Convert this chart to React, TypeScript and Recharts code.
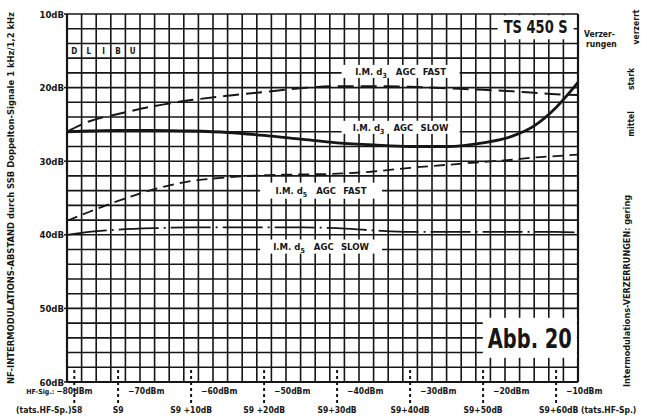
import React from "react";
import {
  CartesianGrid,
  Line,
  LineChart,
  ReferenceDot,
  XAxis,
  YAxis,
} from "recharts";

// HF signal level at the receiver input (dBm)
const signalDbm = [-77, -74, -70, -65, -60, -55, -50, -45, -40, -35, -30, -25, -20, -16, -13, -10, -7];

// NF intermodulation distance (dB)
const d3Fast = [26.0, 24.6, 23.6, 22.5, 21.7, 21.1, 20.6, 20.1, 19.8, 19.8, 19.9, 20.1, 20.3, 20.5, 20.7, 20.9, 21.0];
const d3Slow = [26.0, 25.9, 25.8, 25.8, 25.9, 26.1, 26.5, 27.0, 27.5, 27.8, 28.0, 28.0, 27.5, 26.6, 25.2, 22.7, 19.3];
const d5Fast = [38.1, 36.9, 35.4, 33.8, 32.7, 32.2, 31.9, 31.8, 31.7, 31.4, 30.9, 30.5, 30.1, 29.8, 29.5, 29.3, 29.1];
const d5Slow = [40.0, 39.6, 39.3, 39.1, 39.0, 39.0, 39.0, 39.0, 39.1, 39.4, 39.6, 39.6, 39.6, 39.6, 39.6, 39.6, 39.7];

// axis labelling
const markerDbm = [-76, -70, -60, -50, -40, -30, -20, -10];
const dbmLabels = ["−80dBm", "−70dBm", "−60dBm", "−50dBm", "−40dBm", "−30dBm", "−20dBm", "−10dBm"];
const sLabels = ["S8", "S9", "S9 +10dB", "S9 +20dB", "S9+30dB", "S9+40dB", "S9+50dB", "S9+60dB"];
const rightTicks = [10, 20, 30, 40, 50, 60];
const rightLabels = ["32 %", "10 %", "3,2 %", "1 %", "0,32 %", "0,1 %"];
const modeLetters = ["D", "L", "I", "B", "U"];
const modeLetterX = [-76, -74, -72, -70, -68];

const gridX = Array.from({ length: 36 }, (_, i) => -77 + i * 2);
const gridY = Array.from({ length: 26 }, (_, i) => 10 + i * 2);

const data = signalDbm.map((x, i) => ({
  x,
  d3Fast: d3Fast[i],
  d3Slow: d3Slow[i],
  d5Fast: d5Fast[i],
  d5Slow: d5Slow[i],
}));

const INK = "#161616";
const FONT = "'Liberation Sans Narrow', 'DejaVu Sans Condensed', 'Liberation Sans', Arial, sans-serif";

function LeftTick({ x, y, payload }: any) {
  if (payload.value % 10 !== 0) return null;
  return (
    <g>
      <line x1={x} x2={x + 3} y1={y} y2={y} stroke={INK} strokeWidth={1.5} />
      <text x={x} y={y + 3.5} textAnchor="end" fontSize={9.5} fontWeight="bold" fill={INK} fontFamily={FONT}>
        {payload.value}dB
      </text>
    </g>
  );
}

function RightTick({ x, y, payload }: any) {
  const i = rightTicks.indexOf(payload.value);
  return (
    <g>
      <line x1={x - 6} x2={x} y1={y} y2={y} stroke={INK} strokeWidth={1.5} />
      <text x={x + 2} y={y + 3.5} textAnchor="start" fontSize={9.5} fontWeight="bold" fill={INK} fontFamily={FONT}>
        {rightLabels[i]}
      </text>
    </g>
  );
}

function MarkerTick({ x, y, payload }: any) {
  const i = markerDbm.indexOf(payload.value);
  const first = i === 0;
  const last = i === markerDbm.length - 1;
  return (
    <g fontFamily={FONT} fontWeight="bold" fill={INK} fontSize={8.5}>
      <line x1={x} x2={x} y1={y - 12} y2={y + 24} stroke={INK} strokeWidth={2} strokeDasharray="3 3" />
      {first ? (
        <>
          <text x={x - 20} y={y + 12} textAnchor="end" fontSize={7}>HF-Sig.:</text>
          <text x={x} y={y + 12} textAnchor="middle">{dbmLabels[i]}</text>
          <text x={x + 8} y={y + 31} textAnchor="end">(tats.HF-Sp.){sLabels[i]}</text>
        </>
      ) : (
        <>
          <text x={x + 10} y={y + 12} textAnchor="start">{dbmLabels[i]}</text>
          {last ? (
            <text x={x - 17} y={y + 31} textAnchor="start">{sLabels[i]} (tats.HF-Sp.)</text>
          ) : (
            <text x={x} y={y + 31} textAnchor="middle">{sLabels[i]}</text>
          )}
        </>
      )}
    </g>
  );
}

function CurveLabel({ cx, cy, w, h, sub, mode }: any) {
  return (
    <g>
      <rect x={cx - w / 2} y={cy - h / 2} width={w} height={h} fill="#fff" />
      <text x={cx} y={cy + 3.5} textAnchor="middle" fontSize={9.5} fontWeight="bold" fill={INK} fontFamily={FONT}>
        <tspan>I.M. d</tspan>
        <tspan dy={3} fontSize={7}>{sub}</tspan>
        <tspan dy={-3} dx={9}>AGC</tspan>
        <tspan dx={7}>{mode}</tspan>
      </text>
    </g>
  );
}

function TitleBox({ cx, cy, w, h, size, len, text }: any) {
  return (
    <g>
      <rect x={cx - w / 2} y={cy - h / 2} width={w} height={h} fill="#fff" />
      <text
        x={cx}
        y={cy + size * 0.36}
        textAnchor="middle"
        fontSize={size}
        fontWeight="bold"
        fill={INK}
        fontFamily={FONT}
        textLength={len}
        lengthAdjust="spacingAndGlyphs"
      >
        {text}
      </text>
    </g>
  );
}

export default function App() {
  return (
    <div style={{ position: "absolute", left: 0, top: 0, width: 647, height: 420, background: "#fff" }}>
      <LineChart width={647} height={420} data={data} margin={{ top: 14, right: 0, bottom: 0, left: 0 }}>
        <XAxis xAxisId="g" dataKey="x" type="number" domain={[-77, -7]} ticks={gridX} interval={0} height={0} hide />
        <XAxis
          xAxisId="m"
          dataKey="x"
          type="number"
          domain={[-77, -7]}
          ticks={markerDbm}
          interval={0}
          height={38}
          tickSize={0}
          tickMargin={0}
          tickLine={false}
          axisLine={{ stroke: INK, strokeWidth: 2.2 }}
          tick={<MarkerTick />}
        />
        <YAxis
          yAxisId="l"
          type="number"
          domain={[10, 60]}
          reversed
          ticks={gridY}
          interval={0}
          width={67}
          tickSize={3}
          tickMargin={0}
          tickLine={false}
          axisLine={{ stroke: INK, strokeWidth: 2.2 }}
          tick={<LeftTick />}
        />
        <YAxis
          yAxisId="r"
          orientation="right"
          type="number"
          domain={[10, 60]}
          reversed
          ticks={rightTicks}
          interval={0}
          width={69}
          tickSize={6}
          tickMargin={0}
          tickLine={false}
          axisLine={{ stroke: INK, strokeWidth: 2.2 }}
          tick={<RightTick />}
        />
        <CartesianGrid xAxisId="g" yAxisId="l" stroke={INK} strokeWidth={1.6} />

        {modeLetters.map((l, i) => (
          <ReferenceDot
            key={l}
            xAxisId="m"
            yAxisId="l"
            x={modeLetterX[i]}
            y={15}
            ifOverflow="visible"
            shape={(p: any) => (
              <text x={p.cx} y={p.cy + 3} textAnchor="middle" fontSize={8} fontWeight="bold" fill={INK} fontFamily={FONT}>
                {l}
              </text>
            )}
          />
        ))}

        <Line xAxisId="g" yAxisId="l" dataKey="d3Fast" type="monotone" stroke={INK} strokeWidth={2} strokeDasharray="16 7" dot={false} isAnimationActive={false} />
        <Line xAxisId="g" yAxisId="l" dataKey="d3Slow" type="monotone" stroke={INK} strokeWidth={2.8} dot={false} isAnimationActive={false} />
        <Line xAxisId="g" yAxisId="l" dataKey="d5Fast" type="monotone" stroke={INK} strokeWidth={1.8} strokeDasharray="11 6" dot={false} isAnimationActive={false} />
        <Line xAxisId="g" yAxisId="l" dataKey="d5Slow" type="monotone" stroke={INK} strokeWidth={1.8} strokeDasharray="40 5 2 5" dot={false} isAnimationActive={false} />

        <ReferenceDot xAxisId="m" yAxisId="l" x={-31.3} y={17.8} ifOverflow="visible"
          shape={(p: any) => <CurveLabel cx={p.cx} cy={p.cy} w={118} h={13} sub="3" mode="FAST" />} />
        <ReferenceDot xAxisId="m" yAxisId="l" x={-31.3} y={25.4} ifOverflow="visible"
          shape={(p: any) => <CurveLabel cx={p.cx} cy={p.cy} w={118} h={13} sub="3" mode="SLOW" />} />
        <ReferenceDot xAxisId="m" yAxisId="l" x={-42.2} y={34.0} ifOverflow="visible"
          shape={(p: any) => <CurveLabel cx={p.cx} cy={p.cy} w={122} h={16} sub="5" mode="FAST" />} />
        <ReferenceDot xAxisId="m" yAxisId="l" x={-42.2} y={41.6} ifOverflow="visible"
          shape={(p: any) => <CurveLabel cx={p.cx} cy={p.cy} w={122} h={14} sub="5" mode="SLOW" />} />
        <ReferenceDot xAxisId="m" yAxisId="l" x={-12.8} y={11.8} ifOverflow="visible"
          shape={(p: any) => <TitleBox cx={p.cx} cy={p.cy} w={76} h={24} size={17} len={64} text="TS 450 S" />} />
        <ReferenceDot xAxisId="m" yAxisId="l" x={-13.6} y={54.0} ifOverflow="visible"
          shape={(p: any) => <TitleBox cx={p.cx} cy={p.cy} w={94} h={40} size={27} len={84} text="Abb. 20" />} />
      </LineChart>

      <svg width={647} height={420} style={{ position: "absolute", left: 0, top: 0, pointerEvents: "none" }}>
        <g fontFamily={FONT} fontWeight="bold" fill={INK}>
          <text
            transform="translate(14 198) rotate(-90)"
            textAnchor="middle"
            fontSize={9.5}
            textLength={372}
            lengthAdjust="spacingAndGlyphs"
          >
            NF-INTERMODULATIONS-ABSTAND durch SSB Doppelton-Signale 1 kHz/1,2 kHz
          </text>
          <text x={584} y={37} fontSize={8.5}>Verzer-</text>
          <text x={586} y={47} fontSize={8.5}>rungen</text>
          <text transform="translate(639 27) rotate(-90)" textAnchor="middle" fontSize={8.5}>verzerrt</text>
          <text transform="translate(634 79) rotate(-90)" textAnchor="middle" fontSize={8.5}>stark</text>
          <text transform="translate(634 124) rotate(-90)" textAnchor="middle" fontSize={8.5}>mittel</text>
          <text
            transform="translate(630 291) rotate(-90)"
            textAnchor="middle"
            fontSize={9}
            textLength={192}
            lengthAdjust="spacingAndGlyphs"
          >
            Intermodulations-VERZERRUNGEN: gering
          </text>
        </g>
      </svg>
    </div>
  );
}
